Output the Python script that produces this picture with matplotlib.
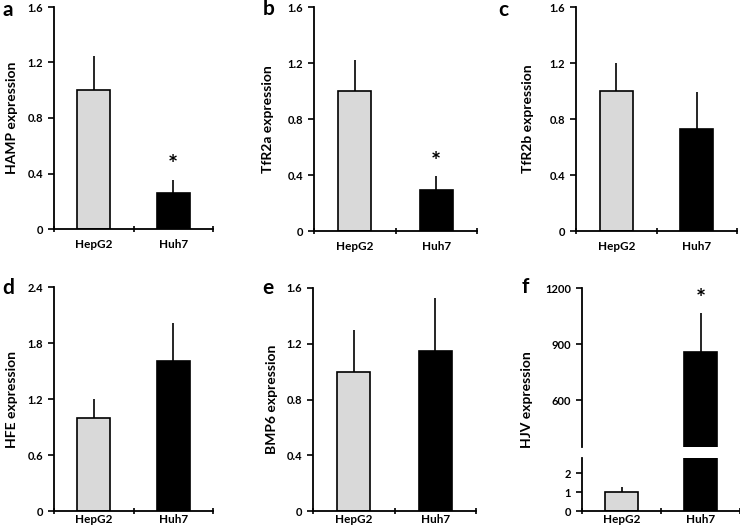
import matplotlib.pyplot as plt
from matplotlib.ticker import FuncFormatter

genes = ['HAMP', 'TfR2a', 'TfR2b', 'HFE', 'BMP6', 'HJV']
letters = ['a', 'b', 'c', 'd', 'e', 'f']
cells = ['HepG2', 'Huh7']
hepg2_mean = [1.0, 1.0, 1.0, 1.0, 1.0, 1.0]
hepg2_err = [0.25, 0.22, 0.20, 0.20, 0.30, 0.25]
huh7_mean = [0.26, 0.29, 0.73, 1.61, 1.15, 858]
huh7_err = [0.095, 0.10, 0.26, 0.40, 0.38, 206]
significant = [True, True, False, False, False, True]
ymax = [1.6, 1.6, 1.6, 2.4, 1.6, 1200]
ystep = [0.4, 0.4, 0.4, 0.6, 0.4, 300]

# panel f is split: low range for HepG2, high range for Huh7
f_low = (0, 2.8)
f_low_ticks = [0, 1, 2]
f_high = (350, 1200)
f_high_ticks = [600, 900, 1200]

W, H = 740, 530
plt.rcParams['font.family'] = ['Lato', 'DejaVu Sans']
plt.rcParams['font.weight'] = 'bold'

# axes boxes in pixels: left, top, right, bottom
boxes = [(54, 7, 213, 229), (314, 7, 477, 231), (576, 7, 737, 231),
         (54, 287, 213, 511), (313, 288, 476, 511), (582, 288, 740, 511)]
ylabel_x = [12, 268, 528, 12, 272, 527]
letter_pos = [(8, 10), (269, 9), (503, 10), (8, 288), (268, 288), (525, 287)]

fig = plt.figure(figsize=(W / 100, H / 100), dpi=100)

fmt = FuncFormatter(lambda v, p: '0' if v == 0 else '%g' % round(v, 2))
colors = ['#d9d9d9', 'black']
xpos = [0.5, 1.5]
bw = 0.41


def style(ax, bottom=True, xpad=7):
    for s in ['top', 'right']:
        ax.spines[s].set_visible(False)
    for s in ['left', 'bottom']:
        ax.spines[s].set_linewidth(1.3)
    ax.tick_params(axis='y', direction='out', length=4, width=1.2, labelsize=8, pad=4)
    ax.tick_params(axis='x', direction='inout', length=5, width=1.2)
    ax.set_xlim(0, 2)
    ax.yaxis.set_major_formatter(fmt)
    for lab in ax.get_yticklabels():
        lab.set_fontweight('bold')
    if bottom:
        ax.set_xticks([0, 1, 2])
        ax.set_xticklabels(['', '', ''])
        ax.set_xticks(xpos, minor=True)
        ax.set_xticklabels(cells, minor=True, fontweight='bold')
        ax.tick_params(axis='x', which='minor', length=0, labelsize=8.5, pad=xpad)
    else:
        ax.spines['bottom'].set_visible(False)
        ax.tick_params(axis='x', length=0, labelbottom=False)


def draw_bars(ax, i):
    means = [hepg2_mean[i], huh7_mean[i]]
    errs = [hepg2_err[i], huh7_err[i]]
    ax.bar(xpos, means, bw, color=colors, edgecolor='black', linewidth=1.2, zorder=2)
    ax.errorbar(xpos, means, yerr=[[0, 0], errs], fmt='none', ecolor='black',
                elinewidth=1.2, capsize=0, zorder=1)


for i, g in enumerate(genes):
    l, t, r, b = boxes[i]
    xpad = 7 if i < 3 else 2.5
    if i < 5:
        ax = fig.add_axes([l / W, 1 - b / H, (r - l) / W, (b - t) / H])
        draw_bars(ax, i)
        ax.set_ylim(0, ymax[i])
        n = int(round(ymax[i] / ystep[i]))
        ax.set_yticks([k * ystep[i] for k in range(n + 1)])
        style(ax, xpad=xpad)
        top_ax = ax
    else:
        lb, lt = 458, 511
        ax_lo = fig.add_axes([l / W, 1 - lt / H, (r - l) / W, (lt - lb) / H])
        ax_hi = fig.add_axes([l / W, 1 - 447 / H, (r - l) / W, (447 - t) / H])
        for a in (ax_lo, ax_hi):
            draw_bars(a, i)
        ax_lo.set_ylim(*f_low)
        ax_lo.set_yticks(f_low_ticks)
        ax_hi.set_ylim(*f_high)
        ax_hi.set_yticks(f_high_ticks)
        style(ax_lo, xpad=xpad)
        style(ax_hi, bottom=False)
        top_ax = ax_hi
    if significant[i]:
        top_ax.annotate('*', (xpos[1], huh7_mean[i] + huh7_err[i]), xytext=(0, 2),
                        textcoords='offset points', ha='center', va='bottom',
                        fontsize=17, fontweight='bold')
    yc = (t + (447 if i == 5 else b)) / 2 + (32 if i == 5 else 0)
    fig.text(ylabel_x[i] / W, 1 - yc / H, g + ' expression', rotation=90,
             ha='center', va='center', fontsize=10, fontweight='bold')
    lx, ly = letter_pos[i]
    fig.text(lx / W, 1 - ly / H, letters[i], ha='center', va='center',
             fontsize=15, fontweight='bold')

fig.savefig('out.png', dpi=100)
